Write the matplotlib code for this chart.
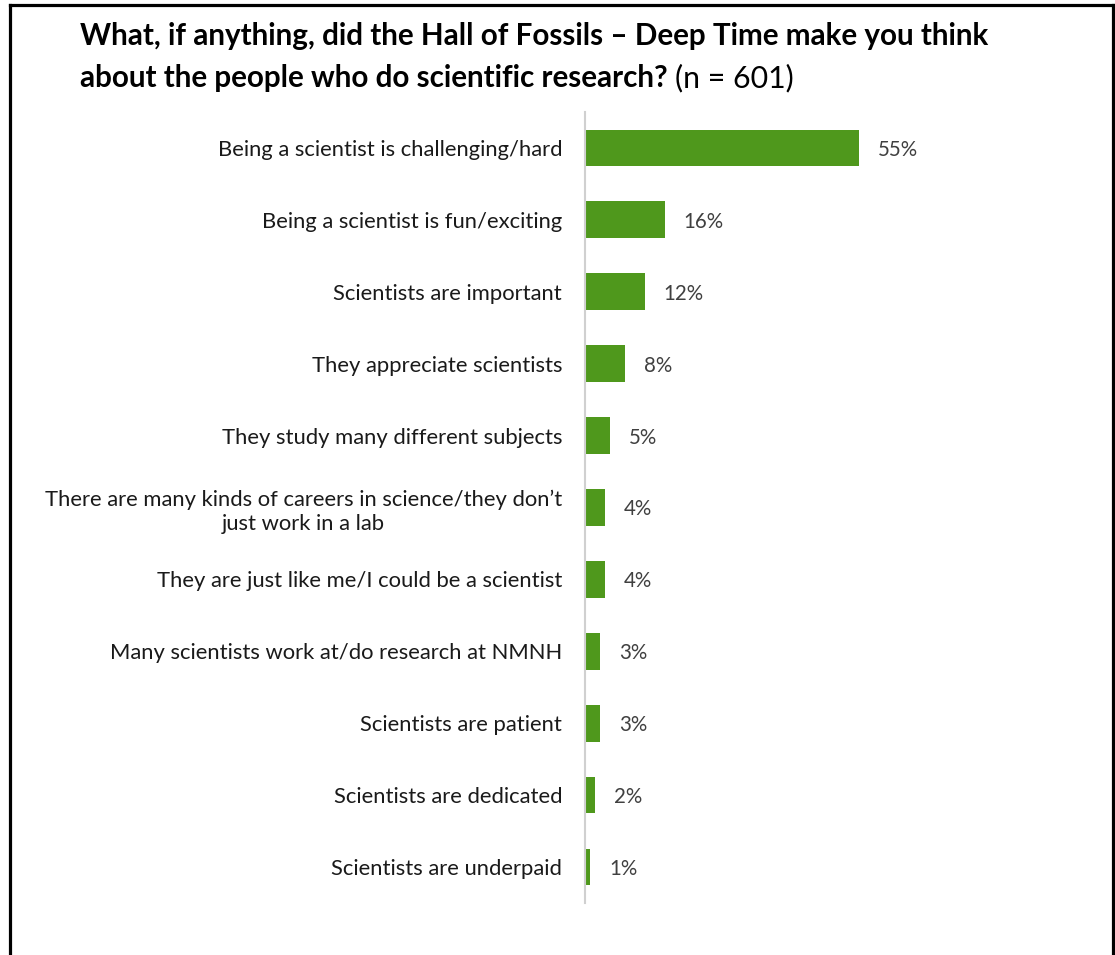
import matplotlib.pyplot as plt
from matplotlib.lines import Line2D

# survey responses, top to bottom
answers = [
    'Being a scientist is challenging/hard',
    'Being a scientist is fun/exciting',
    'Scientists are important',
    'They appreciate scientists',
    'They study many different subjects',
    'There are many kinds of careers in science/they don\u2019t\njust work in a lab',
    'They are just like me/I could be a scientist',
    'Many scientists work at/do research at NMNH',
    'Scientists are patient',
    'Scientists are dedicated',
    'Scientists are underpaid',
]
pct = [55, 16, 12, 8, 5, 4, 4, 3, 3, 2, 1]

plt.rcParams['font.family'] = ['Lato', 'DejaVu Sans']

W, H = 1115, 955
fig = plt.figure(figsize=(W / 100, H / 100), dpi=100)
ax = fig.add_axes([0.5247, 0.0545, 0.4439, 0.8283])

ypos = list(range(len(answers)))
ax.barh(ypos, pct, height=0.51, color='#4f981c')
for y, v in zip(ypos, pct):
    ax.text(v + 3.8, y, f'{v}%', va='center_baseline', ha='left', fontsize=14.8,
            color='#404040')

ax.set_ylim(len(answers) - 0.5, -0.5)
ax.set_xlim(0, 99.5)
ax.set_yticks(ypos)
ax.set_yticklabels(answers, fontsize=15.8, color='#1a1a1a', multialignment='center',
                   linespacing=1.25)
ax.tick_params(axis='y', length=0, pad=16.5)
ax.set_xticks([])
for s in ['top', 'right', 'bottom']:
    ax.spines[s].set_visible(False)
ax.spines['left'].set_color('#d0d0d0')
ax.spines['left'].set_linewidth(1.5)

# title: bold question followed by plain sample size
tkw = dict(fontsize=21.3, color='black', ha='left', va='baseline')
fig.text(80 / W, 1 - 45 / H,
         'What, if anything, did the Hall of Fossils \u2013 Deep Time make you think',
         fontweight='bold', **tkw)
t2 = fig.text(80 / W, 1 - 87 / H, 'about the people who do scientific research?',
              fontweight='bold', **tkw)
fig.canvas.draw()
bb = t2.get_window_extent()
fig.text(bb.x1 / W + 0.007, 1 - 87 / H, '(n = 601)', fontsize=21.8, color='black',
         ha='left', va='baseline')

# frame around the slide (open at the bottom)
fr = dict(color='black', linewidth=2.3, transform=fig.transFigure)
fig.add_artist(Line2D([10 / W, 10 / W], [0, 1 - 5 / H], **fr))
fig.add_artist(Line2D([1113 / W, 1113 / W], [0, 1 - 5 / H], **fr))
fig.add_artist(Line2D([10 / W, 1113 / W], [1 - 5 / H, 1 - 5 / H], **fr))

fig.savefig('out.png', dpi=100)
